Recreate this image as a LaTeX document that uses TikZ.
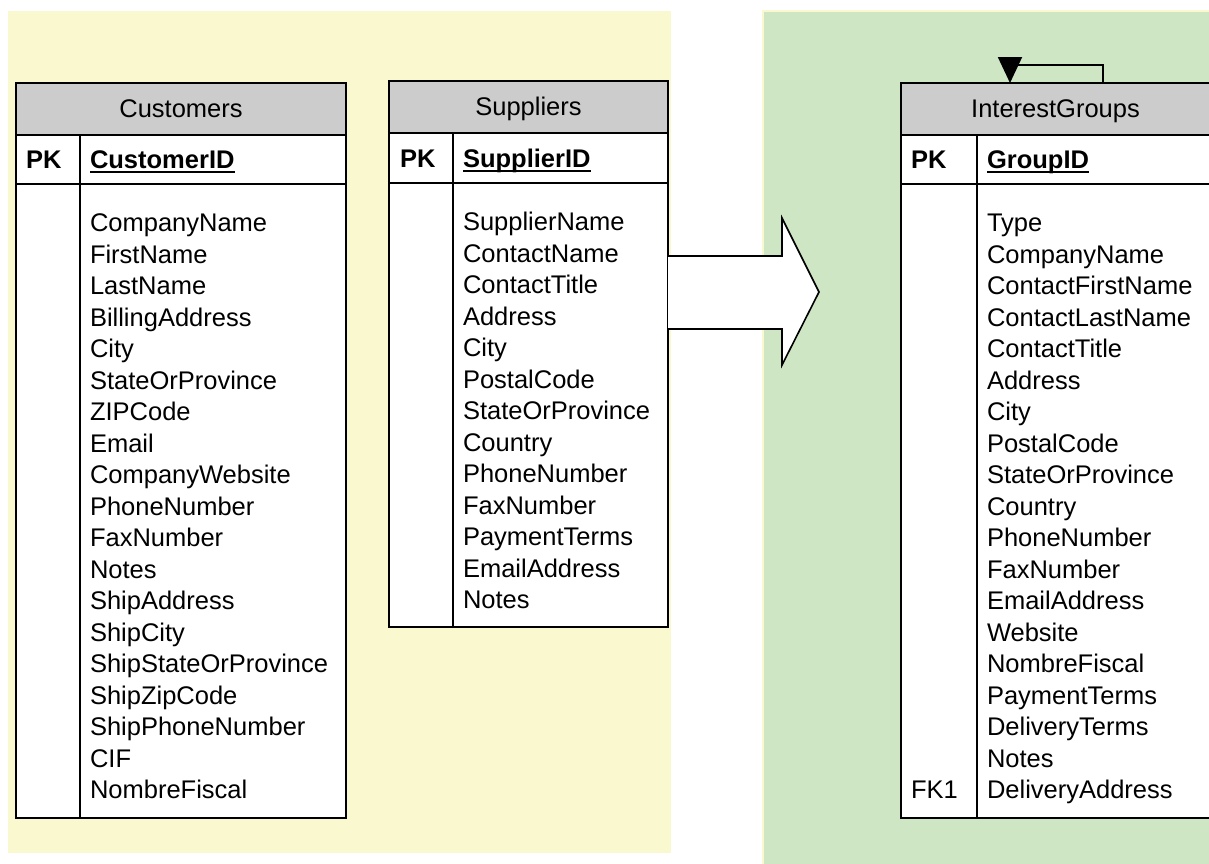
\documentclass[tikz,border=0pt]{standalone}
\usepackage{fontspec}
\setmainfont{Liberation Sans}
\usetikzlibrary{arrows.meta,calc}
\definecolor{paneyellow}{RGB}{250,248,206}
\definecolor{panegreen}{RGB}{207,230,197}
\definecolor{headgray}{RGB}{204,204,204}
% bold key field with a heavy underline
\newcommand\keyfield[1]{\setbox0\hbox{\bfseries #1}\rlap{\rule[-4pt]{\wd0}{2pt}}\box0}

\begin{document}
\begin{tikzpicture}[x=1pt,y=-1pt,
  every node/.style={inner sep=0pt, outer sep=0pt, font=\fontsize{25.5}{30}\selectfont},
  cell/.style={draw=black, line width=1.6pt, rectangle, anchor=north west},
  headcell/.style={cell, fill=headgray},
  bodycell/.style={cell, fill=white},
  rule/.style={draw=black, line width=1.6pt},
  field/.style={anchor=base west},
  title/.style={anchor=base},
  keylabel/.style={anchor=base west, font=\fontsize{25.5}{30}\selectfont\bfseries},
  bigarrow/.style={draw=black, line width=1.6pt, fill=white, line join=miter},
  selfloop/.style={draw=black, line width=2pt, -{Triangle[length=26pt,width=24pt]}}
]
\useasboundingbox (0,0) rectangle (1209,863);
\clip (0,0) rectangle (1209,863);

% background panels
\fill[paneyellow] (8,11) rectangle (671,853);
\fill[panegreen, draw=paneyellow, line width=2pt] (763,11) rectangle (1220,875);

% ---------- Customers ----------
\node[headcell, minimum width=330, minimum height=52] (cusHead) at (16,83) {};
\node[bodycell, minimum width=330, minimum height=49] (cusKey) at (cusHead.south west) {};
\node[bodycell, minimum width=330, minimum height=634] (cusBody) at (cusKey.south west) {};
\draw[rule] ($(cusKey.north west)+(64,0)$) -- ($(cusBody.south west)+(64,0)$);
\node[title] (cusTitle) at (181,117.5) {Customers};
\node[keylabel] (cusPK) at (26,168.5) {PK};
\node[field] (cusID) at (90,168.5) {\keyfield{CustomerID}};
\foreach \f [count=\i from 0] in {CompanyName,FirstName,LastName,BillingAddress,City,
  StateOrProvince,ZIPCode,Email,CompanyWebsite,PhoneNumber,FaxNumber,Notes,
  ShipAddress,ShipCity,ShipStateOrProvince,ShipZipCode,ShipPhoneNumber,CIF,NombreFiscal}
  \node[field] (cusF\i) at (90,231.5+31.5*\i) {\f};

% ---------- Suppliers ----------
\node[headcell, minimum width=279, minimum height=52] (supHead) at (389,81) {};
\node[bodycell, minimum width=279, minimum height=50] (supKey) at (supHead.south west) {};
\node[bodycell, minimum width=279, minimum height=444] (supBody) at (supKey.south west) {};
\draw[rule] ($(supKey.north west)+(64,0)$) -- ($(supBody.south west)+(64,0)$);
\node[title] (supTitle) at (528.5,115.5) {Suppliers};
\node[keylabel] (supPK) at (400,167.5) {PK};
\node[field] (supID) at (463,167.5) {\keyfield{SupplierID}};
\foreach \f [count=\i from 0] in {SupplierName,ContactName,ContactTitle,Address,City,
  PostalCode,StateOrProvince,Country,PhoneNumber,FaxNumber,PaymentTerms,EmailAddress,Notes}
  \node[field] (supF\i) at (463,230.5+31.5*\i) {\f};

% ---------- InterestGroups ----------
\node[headcell, minimum width=311, minimum height=52] (igHead) at (901,83) {};
\node[bodycell, minimum width=311, minimum height=49] (igKey) at (igHead.south west) {};
\node[bodycell, minimum width=311, minimum height=634] (igBody) at (igKey.south west) {};
\draw[rule] ($(igKey.north west)+(76,0)$) -- ($(igBody.south west)+(76,0)$);
\node[title] (igTitle) at (1055.5,117.5) {InterestGroups};
\node[keylabel] (igPK) at (911,168.5) {PK};
\node[field] (igID) at (987,168.5) {\keyfield{GroupID}};
\foreach \f [count=\i from 0] in {Type,CompanyName,ContactFirstName,ContactLastName,
  ContactTitle,Address,City,PostalCode,StateOrProvince,Country,PhoneNumber,FaxNumber,
  EmailAddress,Website,NombreFiscal,PaymentTerms,DeliveryTerms,Notes,DeliveryAddress}
  \node[field] (igF\i) at (987,231.5+31.5*\i) {\f};
\node[anchor=base west] (igFK) at (911,798.5) {FK1};

% self reference on InterestGroups
\draw[selfloop] ($(igHead.north west)+(202,0)$) -- ++(0,-18) -| ($(igHead.north west)+(109,0)$);

% block arrow from Suppliers to InterestGroups
\draw[bigarrow] ($(supBody.north east)+(0,73)$) -- ++(114,0) -- ++(0,-38)
  -- ($(supBody.north east)+(151,109)$) -- ($(supBody.north east)+(114,182)$)
  -- ++(0,-36) -- ($(supBody.north east)+(0,146)$);
\end{tikzpicture}
\end{document}
